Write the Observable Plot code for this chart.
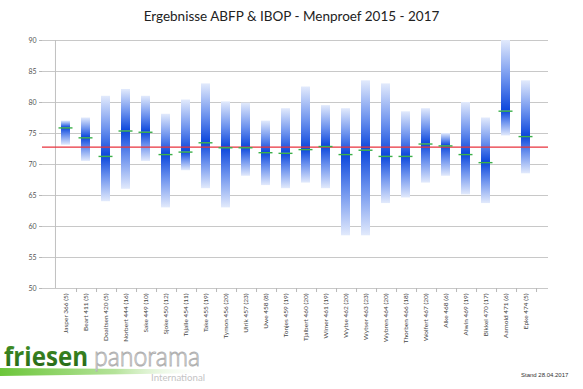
<!DOCTYPE html>
<html>
<head>
<meta charset="utf-8">
<script src="https://cdn.jsdelivr.net/npm/d3@7"></script>
<script src="https://cdn.jsdelivr.net/npm/@observablehq/plot@0.6"></script>
<style>
  html, body { margin: 0; padding: 0; background: #fff; }
  #wrap { position: relative; width: 583px; height: 389px; overflow: hidden; font-family: Lato, "Open Sans", sans-serif; }
  #title { position: absolute; left: 0; top: 8px; width: 583px; text-align: center; font-size: 13.5px; color: #222; }
  #chart { position: absolute; left: 0; top: 30px; }
  #logo { position: absolute; left: 0; top: 330px; }
  #stand { position: absolute; left: 521px; top: 372px; font-size: 6px; color: #333; font-family: "Liberation Sans", sans-serif; }
</style>
</head>
<body>
<div id="wrap">
  <div id="title">Ergebnisse ABFP &amp; IBOP - Menproef 2015 - 2017</div>
  <div id="chart"></div>
  <svg id="logo" width="220" height="59" viewBox="0 330 220 59">
    <defs>
      <linearGradient id="swoosh" x1="0" y1="0" x2="1" y2="0">
        <stop offset="0" stop-color="#6cc63a"/>
        <stop offset="0.55" stop-color="#b5e39a"/>
        <stop offset="1" stop-color="#ffffff" stop-opacity="0"/>
      </linearGradient>
      <linearGradient id="fgreen" x1="0" y1="0" x2="0" y2="1">
        <stop offset="0" stop-color="#4a9a2a"/>
        <stop offset="1" stop-color="#1f5e12"/>
      </linearGradient>
    </defs>
    <polygon points="0,368 210,369.5 210,373 0,376" fill="url(#swoosh)"/>
    <text x="4" y="366" font-family="Open Sans, sans-serif" font-weight="bold" font-size="27" fill="url(#fgreen)" textLength="84" lengthAdjust="spacingAndGlyphs">friesen</text>
    <text x="94" y="366" font-family="Lato, sans-serif" font-weight="300" font-size="27" fill="#fff" stroke="#b0b0b0" stroke-width="0.9" textLength="106" lengthAdjust="spacingAndGlyphs">panorama</text>
    <text x="151" y="381" font-family="Lato, sans-serif" font-size="10" fill="#c4c4c4" textLength="54" lengthAdjust="spacingAndGlyphs">International</text>
  </svg>
  <div id="stand">Stand 28.04.2017</div>
</div>
<script>
// ---- data ----
const names = [
  "Jasper 366 (5)", "Beart 411 (5)", "Doaitsen 420 (5)", "Norbert 444 (16)",
  "Sake 449 (10)", "Sjoke 450 (12)", "Tsjalle 454 (11)", "Take 455 (19)",
  "Tymon 456 (20)", "Ulrik 457 (23)", "Uwe 458 (8)", "Tonjes 459 (19)",
  "Tjalbert 460 (20)", "Wimer 461 (19)", "Wytse 462 (20)", "Wytser 463 (23)",
  "Wybren 464 (20)", "Thorben 466 (18)", "Wolfert 467 (20)", "Alke 468 (6)",
  "Alwin 469 (19)", "Bikkel 470 (17)", "Aarnold 471 (6)", "Epke 474 (5)"
];
const minVals  = [73.1, 70.5, 64.0, 66.0, 70.5, 63.0, 69.0, 66.1, 63.0, 68.1, 66.6, 66.1,
                  67.0, 66.1, 58.5, 58.5, 63.7, 64.6, 67.0, 68.1, 65.1, 63.7, 74.6, 68.5];
const meanVals = [75.9, 74.3, 71.3, 75.4, 75.2, 71.6, 72.0, 73.5, 72.7, 72.7, 71.9, 71.8,
                  72.4, 72.9, 71.6, 72.3, 71.3, 71.3, 73.3, 73.0, 71.6, 70.3, 78.6, 74.5];
const maxVals  = [77.0, 77.5, 81.0, 82.1, 81.0, 78.1, 80.4, 83.0, 80.1, 79.9, 77.0, 79.0,
                  82.5, 79.5, 79.0, 83.5, 83.0, 78.5, 79.0, 75.0, 80.0, 77.5, 90.0, 83.5];
const overallAvg = 72.8;
const yTicks = [50, 55, 60, 65, 70, 75, 80, 85, 90];

const rows = names.map((n, i) => ({name: n, min: minVals[i], mean: meanVals[i], max: maxVals[i]}));

const W = 583, ML = 42, MR = 35;
const halfStep = (W - ML - MR) / names.length / 2;

const plot = Plot.plot({
  width: W,
  height: 318,
  marginTop: 10,
  marginBottom: 60,
  marginLeft: ML,
  marginRight: MR,
  style: {fontFamily: "Lato, 'Open Sans', sans-serif", background: "transparent"},
  x: {domain: names, padding: 0.57, label: null},
  y: {domain: [50, 90], label: null},
  marks: [
    Plot.ruleY(yTicks, {stroke: "#c8c8c8", strokeWidth: 1}),
    Plot.ruleX([50], {x: () => names[0], dx: -halfStep, y1: 50, y2: 90, stroke: "#c0c0c0"}),
    Plot.ruleX(names, {x: d => d, dx: halfStep, y1: 50, y2: 49.35, stroke: "#b8b8b8"}),
    Plot.axisY({ticks: yTicks, tickSize: 3, tickPadding: 3, fontSize: 7, color: "#555", stroke: "#b8b8b8", label: null}),
    Plot.axisX({tickRotate: -90, tickSize: 0, tickPadding: 5, fontSize: 6.5, color: "#444", label: null}),
    Plot.rectY(rows, {x: "name", y1: "mean", y2: "max", fill: "url(#gUp)"}),
    Plot.rectY(rows, {x: "name", y1: "min", y2: "mean", fill: "url(#gDown)"}),
    Plot.ruleY([overallAvg], {stroke: "#e8323c", strokeWidth: 1.3}),
    Plot.tickY(rows, {x: "name", y: "mean", stroke: "#3cb04a", strokeWidth: 1.4, inset: -2.5})
  ]
});

const svg = d3.select(plot);
const defs = svg.insert("defs", ":first-child");
const up = defs.append("linearGradient").attr("id", "gUp").attr("x1", 0).attr("y1", 0).attr("x2", 0).attr("y2", 1);
up.append("stop").attr("offset", 0).attr("stop-color", "#e2eafc");
up.append("stop").attr("offset", 0.55).attr("stop-color", "#6c92ee");
up.append("stop").attr("offset", 1).attr("stop-color", "#0b46dc");
const down = defs.append("linearGradient").attr("id", "gDown").attr("x1", 0).attr("y1", 0).attr("x2", 0).attr("y2", 1);
down.append("stop").attr("offset", 0).attr("stop-color", "#0b46dc");
down.append("stop").attr("offset", 0.45).attr("stop-color", "#6c92ee");
down.append("stop").attr("offset", 1).attr("stop-color", "#e2eafc");

document.getElementById("chart").appendChild(plot);
</script>
</body>
</html>
